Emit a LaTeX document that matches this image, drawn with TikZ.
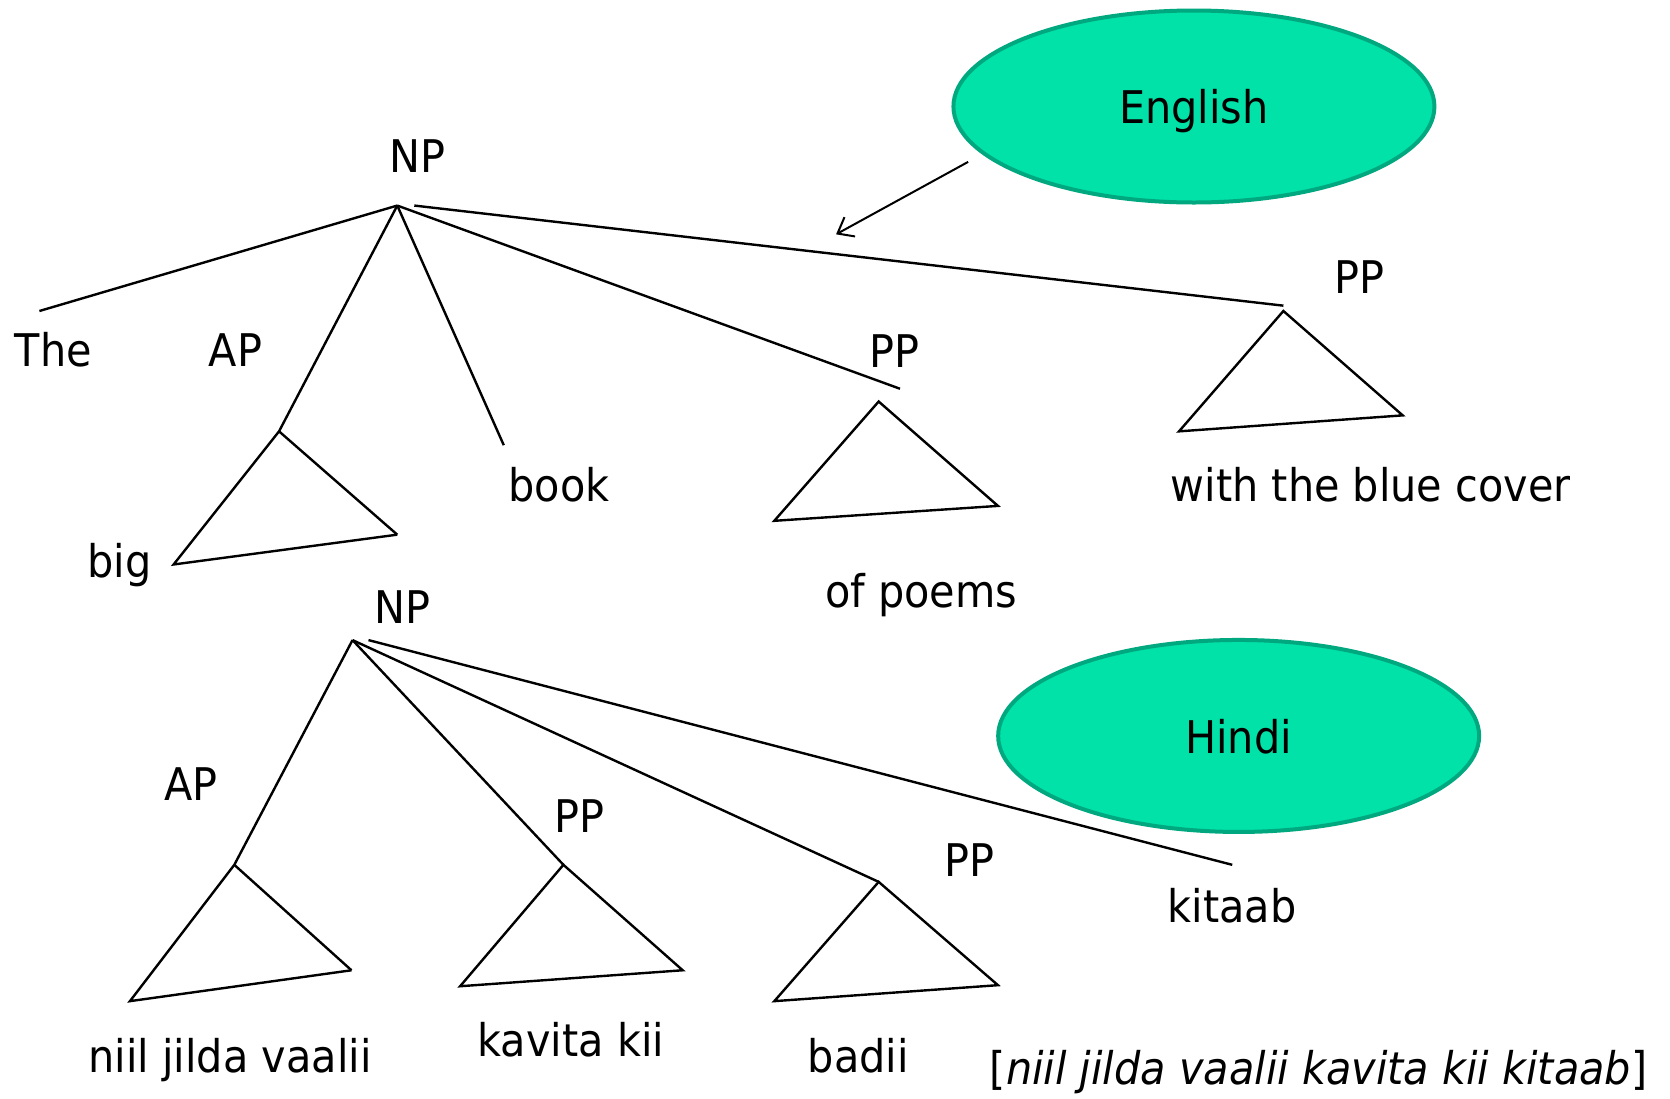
\documentclass[tikz,border=0pt]{standalone}
\usepackage{fontspec}
\setmainfont{DejaVu Sans}[FakeStretch=0.92]
\usetikzlibrary{shapes.geometric,arrows.meta}
\definecolor{lang}{RGB}{0,226,168}
\definecolor{langborder}{RGB}{0,168,128}
\tikzset{
  lbl/.style={anchor=base,inner sep=0pt,font=\fontsize{45}{54}\selectfont},
  br/.style={line width=2.4pt,black},
  langnode/.style={ellipse,draw=langborder,fill=lang,line width=4pt,minimum width=481pt,minimum height=192pt,inner sep=0pt,text depth=0pt,font=\fontsize{45}{54}\selectfont}
}
\begin{document}
\begin{tikzpicture}[x=1.0651pt,y=-1.0651pt]
\useasboundingbox (0,0) rectangle (1568,1031);
% ---------- English tree ----------
\node[lbl] (np1) at (392,162) {NP};
\coordinate (r1) at (373,193);
\coordinate (r1b) at (389,193);
\node[lbl] (the) at (50,344) {The};
\coordinate (theT) at (37,292);
\node[lbl] (ap1) at (221,344) {AP};
\coordinate (ap1a) at (262,405);
\coordinate (ap1l) at (163,530);
\coordinate (ap1r) at (373,502);
\node[lbl] (big) at (112,542) {big};
\node[lbl] (book) at (525,471) {book};
\coordinate (bookT) at (473,418);
\node[lbl] (pp1) at (840,345) {PP};
\coordinate (pp1e) at (845,365);
\coordinate (pp1a) at (825,377);
\coordinate (pp1l) at (727,489);
\coordinate (pp1r) at (937,475);
\node[lbl] (poems) at (865,570) {of poems};
\node[lbl] (pp2) at (1276,276) {PP};
\coordinate (pp2e) at (1205,287);
\coordinate (pp2a) at (1205,292);
\coordinate (pp2l) at (1107,405);
\coordinate (pp2r) at (1317,390);
\node[lbl] (cover) at (1287,471) {with the blue cover};
\node[langnode] (english) at (1121,100) {English};
\coordinate (arrS) at (909,152);
\coordinate (arrE) at (785,220);

\draw[br] (r1) -- (theT);
\draw[br] (r1) -- (ap1a);
\draw[br] (r1) -- (bookT);
\draw[br] (r1) -- (pp1e);
\draw[br] (r1b) -- (pp2e);
\draw[br] (ap1a) -- (ap1l) -- (ap1r);
\draw[br] (ap1a) -- (ap1r);
\draw[br] (pp1a) -- (pp1l) -- (pp1r) -- cycle;
\draw[br] (pp2a) -- (pp2l) -- (pp2r) -- cycle;
\draw[line width=2pt,-{Straight Barb[length=14pt,width=22pt,line width=2pt]}] (arrS) -- (arrE);

% ---------- Hindi tree ----------
\node[lbl] (np2) at (378,585) {NP};
\coordinate (r2) at (331,601);
\coordinate (r2b) at (346,601);
\node[lbl] (ap2) at (179,752) {AP};
\coordinate (ap2a) at (220,812);
\coordinate (ap2l) at (122,940);
\coordinate (ap2r) at (330,911);
\node[lbl] (niil) at (216,1007) {niil jilda vaalii};
\node[lbl] (pp3) at (544,782) {PP};
\coordinate (pp3a) at (529,812);
\coordinate (pp3l) at (432,926);
\coordinate (pp3r) at (641,911);
\node[lbl] (kavita) at (536,992) {kavita kii};
\node[lbl] (pp4) at (910,823) {PP};
\coordinate (pp4a) at (825,828);
\coordinate (pp4l) at (727,940);
\coordinate (pp4r) at (937,925);
\node[lbl] (badii) at (806,1007) {badii};
\coordinate (kitT) at (1157,812);
\node[lbl] (kitaab) at (1157,866) {kitaab};
\node[langnode] (hindi) at (1163,691) {Hindi};
\node[lbl] (gloss) at (1238,1018) {[\textit{niil jilda vaalii kavita kii kitaab}]};

\draw[br] (r2) -- (ap2a);
\draw[br] (r2) -- (pp3a);
\draw[br] (r2) -- (pp4a);
\draw[br] (r2b) -- (kitT);
\draw[br] (ap2a) -- (ap2l) -- (ap2r);
\draw[br] (ap2a) -- (ap2r);
\draw[br] (pp3a) -- (pp3l) -- (pp3r) -- cycle;
\draw[br] (pp4a) -- (pp4l) -- (pp4r) -- cycle;
\end{tikzpicture}
\end{document}
